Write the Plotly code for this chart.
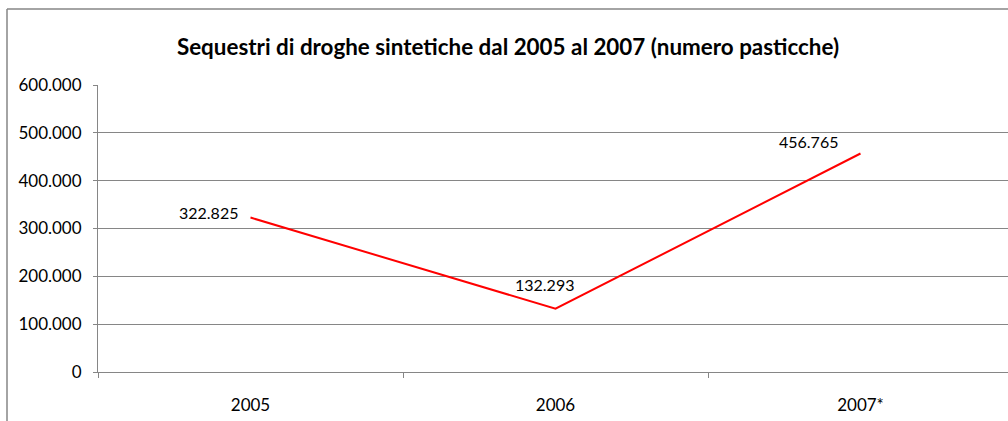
import plotly.graph_objects as go

years = ["2005", "2006", "2007*"]
values = [322825, 132293, 456765]
labels = ["322.825", "132.293", "456.765"]
title = "Sequestri di droghe sintetiche dal 2005 al 2007 (numero pasticche)"

W, H = 1008, 421
ML, MR, MT, MB = 98, 0, 85, 49
PW = W - ML - MR
PH = H - MT - MB
cat_px = 305.0

FONT = "Lato, Open Sans, sans-serif"
GRID = "#868686"

fig = go.Figure()
fig.add_trace(go.Scatter(x=years, y=values, mode="lines",
                         line=dict(color="#FF0000", width=2), hoverinfo="skip"))

# label offsets (style only)
offsets = [dict(xanchor="right", yanchor="middle", xshift=-11, yshift=5),
           dict(xanchor="center", yanchor="middle", xshift=-11, yshift=24),
           dict(xanchor="right", yanchor="middle", xshift=-21, yshift=12)]
for i, (y, t, o) in enumerate(zip(values, labels, offsets)):
    fig.add_annotation(x=i, y=y, text=t, showarrow=False,
                       font=dict(family=FONT, size=16, color="#000"), **o)

xmax = -0.5 + PW / cat_px
fig.update_xaxes(type="category", range=[-0.5, xmax], showgrid=False,
                 showline=True, linecolor=GRID, linewidth=1,
                 ticks="outside", ticklen=5, tickcolor=GRID, tickson="boundaries",
                 tickfont=dict(family=FONT, size=17, color="#000"),
                 ticklabelstandoff=18, zeroline=False)
fig.update_yaxes(range=[0, 600000], dtick=100000, tickformat=",d",
                 showgrid=True, gridcolor=GRID, gridwidth=1,
                 showline=True, linecolor=GRID, linewidth=1,
                 ticks="outside", ticklen=4, tickcolor=GRID,
                 tickfont=dict(family=FONT, size=17, color="#000"),
                 ticklabelstandoff=8, zeroline=False)

bx = (7 - ML) / PW
by = 1 + (MT - 9) / PH
fig.add_shape(type="line", xref="paper", yref="paper", x0=bx, x1=bx, y0=by, y1=-1,
              line=dict(color=GRID, width=1.5))
fig.add_shape(type="line", xref="paper", yref="paper", x0=bx, x1=2, y0=by, y1=by,
              line=dict(color=GRID, width=1.5))

fig.update_layout(
    width=W, height=H, margin=dict(l=ML, r=MR, t=MT, b=MB),
    separators=",.", showlegend=False,
    plot_bgcolor="white", paper_bgcolor="white",
    title=dict(text="<b>" + title + "</b>", x=(508 - ML) / PW, xref="paper",
               xanchor="center", y=1 - 47 / H, yref="container", yanchor="middle",
               font=dict(family=FONT, size=22.4, color="#000")),
)
fig.write_html("out.html",
               config={"displayModeBar": False, "staticPlot": True},
               post_script="document.body.style.margin='0';"
                           "document.body.style.overflow='hidden';")
